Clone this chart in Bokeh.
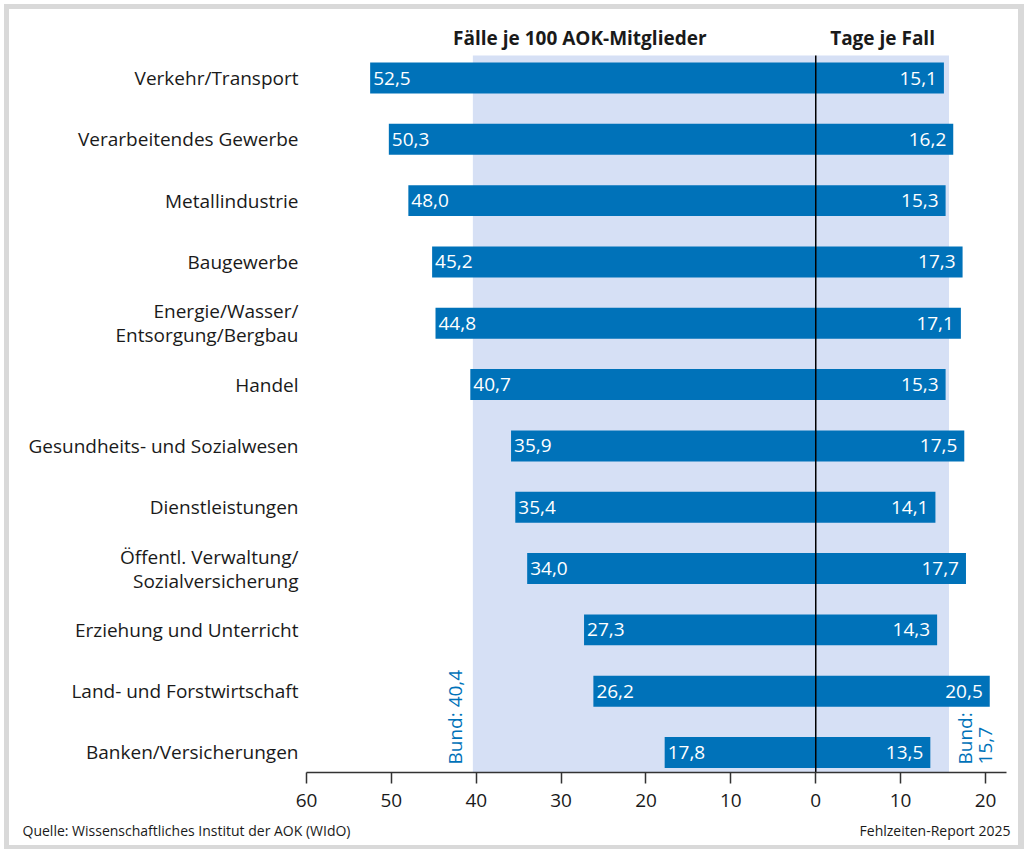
import math
from bokeh.plotting import figure
from bokeh.models import Range1d, FixedTicker, LinearAxis
from bokeh.core.properties import value
from bokeh.embed import file_html
from bokeh.resources import INLINE

branches = [
    "Verkehr/Transport",
    "Verarbeitendes Gewerbe",
    "Metallindustrie",
    "Baugewerbe",
    "Energie/Wasser/\nEntsorgung/Bergbau",
    "Handel",
    "Gesundheits- und Sozialwesen",
    "Dienstleistungen",
    "Öffentl. Verwaltung/\nSozialversicherung",
    "Erziehung und Unterricht",
    "Land- und Forstwirtschaft",
    "Banken/Versicherungen",
]
faelle = [52.5, 50.3, 48.0, 45.2, 44.8, 40.7, 35.9, 35.4, 34.0, 27.3, 26.2, 17.8]
tage = [15.1, 16.2, 15.3, 17.3, 17.1, 15.3, 17.5, 14.1, 17.7, 14.3, 20.5, 13.5]
bund_faelle = 40.4
bund_tage = 15.7
x_ticks = [-60, -50, -40, -30, -20, -10, 0, 10, 20]
x_tick_labels = ["60", "50", "40", "30", "20", "10", "0", "10", "20"]
header_left = "Fälle je 100 AOK-Mitglieder"
header_right = "Tage je Fall"
source_text = "Quelle: Wissenschaftliches Institut der AOK (WIdO)"
report_text = "Fehlzeiten-Report 2025"


def fmt(v):
    return f"{v:.1f}".replace(".", ",")


BLUE = "#0072b9"
BAND = "#d6e0f5"
TXT = "#1a1a1a"
FONT = "Open Sans"
FS = "19px"

idx = list(range(len(branches)))
AXIS_Y = 11.326      # position of the value axis (just below last bar)
X_MIN, X_MAX = -60, 22.47

p = figure(
    width=1024, height=849,
    x_range=Range1d(-96.053, 24.595),
    y_range=Range1d(12.582, -1.264),
    output_backend="svg", toolbar_location=None,
    x_axis_location=None, y_axis_location=None,
    min_border=0,
)
p.styles = {
    "background": "white",
    "box-shadow": "inset 4px 4px 0 0 white, inset 9px 9px 0 0 #d9d9d9, inset -6px -4px 0 0 #d9d9d9",
}
p.outline_line_color = None
p.xgrid.visible = False
p.ygrid.visible = False
p.background_fill_color = None
p.border_fill_color = None

# band of Bund averages
p.quad(left=[-bund_faelle], right=[bund_tage], top=[-0.367], bottom=[AXIS_Y],
       fill_color=BAND, line_color=None)

# bars
p.hbar(y=idx, left=[-v for v in faelle], right=0, height=0.505, fill_color=BLUE, line_color=None)
p.hbar(y=idx, left=0, right=tage, height=0.505, fill_color=BLUE, line_color=None)

# zero line
p.segment(x0=[0], y0=[-0.367], x1=[0], y1=[AXIS_Y], line_color="black", line_width=1.5)

# value labels
p.text(x=[-v for v in faelle], y=idx, text=[fmt(v) for v in faelle], x_offset=3,
       text_align="left", text_baseline="middle", text_color="white",
       text_font=value(FONT), text_font_size=FS)
p.text(x=tage, y=idx, text=[fmt(v) for v in tage], x_offset=-7,
       text_align="right", text_baseline="middle", text_color="white",
       text_font=value(FONT), text_font_size=FS)

# headers
p.text(x=[-27.8, 7.87], y=[-0.66, -0.66], text=[header_left, header_right],
       text_align="center", text_baseline="middle", text_color=TXT,
       text_font=value(FONT), text_font_size=FS, text_font_style="bold")

# Bund labels
p.text(x=[-bund_faelle], y=[AXIS_Y], text=["Bund: " + fmt(bund_faelle)], angle=math.pi / 2,
       x_offset=-18, y_offset=-8, text_align="left", text_baseline="middle",
       text_color=BLUE, text_font=value(FONT), text_font_size=FS)
p.text(x=[bund_tage], y=[AXIS_Y], text=["Bund:\n" + fmt(bund_tage)], angle=math.pi / 2,
       x_offset=26, y_offset=-8, text_align="left", text_baseline="middle",
       text_color=BLUE, text_font=value(FONT), text_font_size=FS, text_line_height=0.78)

# footer
p.text(x=[-93.46], y=[12.27], text=[source_text], text_align="left", text_baseline="middle",
       text_color=TXT, text_font=value(FONT), text_font_size="14px")
p.text(x=[22.946], y=[12.27], text=[report_text], text_align="right", text_baseline="middle",
       text_color=TXT, text_font=value(FONT), text_font_size="14px")

# axes
xa = LinearAxis(fixed_location=AXIS_Y, bounds=(X_MIN, X_MAX))
xa.ticker = FixedTicker(ticks=x_ticks)
xa.major_label_overrides = {t: l for t, l in zip(x_ticks, x_tick_labels)}
xa.axis_line_color = "#333333"
xa.axis_line_width = 1.5
xa.major_tick_line_color = "#333333"
xa.major_tick_line_width = 1.5
xa.major_tick_out = 11
xa.major_tick_in = 0
xa.minor_tick_line_color = None
xa.major_label_standoff = 11
xa.major_label_text_font = FONT
xa.major_label_text_font_size = FS
xa.major_label_text_color = TXT
p.add_layout(xa, "below")

ya = LinearAxis(fixed_location=X_MIN, bounds=(-0.5, 11.5))
ya.ticker = FixedTicker(ticks=idx)
ya.major_label_overrides = {i: b for i, b in zip(idx, branches)}
ya.axis_line_color = None
ya.major_tick_line_color = None
ya.minor_tick_line_color = None
ya.major_tick_out = 0
ya.major_tick_in = 0
ya.major_label_standoff = 8
ya.major_label_text_font = FONT
ya.major_label_text_font_size = FS
ya.major_label_text_color = TXT
ya.major_label_text_align = "right"
ya.major_label_text_line_height = 0.92
p.add_layout(ya, "left")

open("out.html", "w").write(file_html(p, INLINE))
